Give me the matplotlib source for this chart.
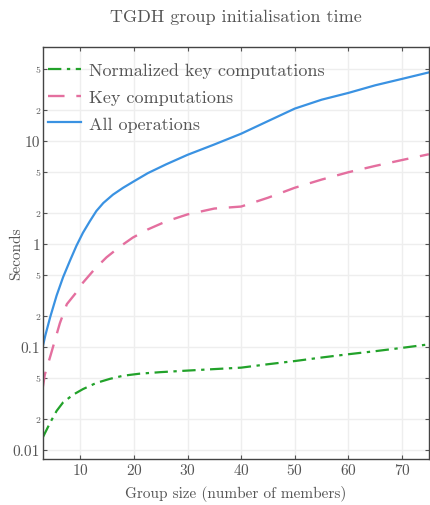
import matplotlib
matplotlib.use("Agg")
import matplotlib.pyplot as plt
from matplotlib.ticker import LogLocator, FuncFormatter, MultipleLocator
import numpy as np

# timings (seconds) per group size
ops_size = [3, 3.5, 4.4, 5.6, 6.8, 8.1, 9.3, 10.5, 11.8, 13, 14.3, 16.1, 18, 20, 22.6, 26, 30, 35, 40, 45, 50, 55, 60, 65, 70, 75]
all_ops = [0.10, 0.13, 0.195, 0.316, 0.475, 0.69, 0.96, 1.28, 1.66, 2.08, 2.49, 3.0, 3.5, 4.04, 4.85, 5.9, 7.3, 9.2, 11.7, 15.5, 20.5, 25.0, 29.1, 34.5, 39.8, 46.0]

key_size = [3, 3.4, 4.5, 6.2, 7.5, 9.3, 10.5, 12.7, 14.9, 17.4, 19.8, 22.6, 26, 30, 35, 40, 45, 50, 55, 60, 65, 70, 75]
key_comp = [0.040, 0.054, 0.084, 0.17, 0.26, 0.34, 0.42, 0.57, 0.74, 0.94, 1.15, 1.38, 1.65, 1.93, 2.2, 2.3, 2.8, 3.5, 4.2, 4.95, 5.7, 6.5, 7.4]

norm_size = [3, 4.4, 5.6, 6.8, 8.7, 10.5, 13, 15.5, 18, 21, 25, 30, 35, 40, 45, 50, 55, 60, 65, 70, 75]
norm_key = [0.0132, 0.0185, 0.024, 0.029, 0.0345, 0.039, 0.0448, 0.049, 0.0526, 0.055, 0.057, 0.059, 0.061, 0.063, 0.068, 0.073, 0.079, 0.085, 0.091, 0.098, 0.106]

grey = "#555555"
plt.rcParams["font.family"] = ["cmr10", "DejaVu Serif"]
plt.rcParams["axes.formatter.use_mathtext"] = True

fig = plt.figure(figsize=(4.3, 5.06), dpi=100)
ax = fig.add_axes([0.0993, 0.091, 0.898, 0.814])

ax.plot(norm_size, norm_key, color="#22a22a", lw=1.6, dashes=(6, 2.5, 1.5, 2.5),
        label="Normalized key computations")
ax.plot(key_size, key_comp, color="#e46f9f", lw=1.7, dashes=(7, 5),
        label="Key computations")
ax.plot(ops_size, all_ops, color="#3a92e2", lw=1.6, label="All operations")

ax.set_yscale("log")
ax.set_xlim(3, 75)
ax.set_ylim(0.0082, 81)

ax.xaxis.set_major_locator(MultipleLocator(10))
ax.yaxis.set_major_locator(LogLocator(base=10, subs=(1.0,)))
ax.yaxis.set_minor_locator(LogLocator(base=10, subs=(2.0, 5.0)))


def major_fmt(v, pos):
    return "{:g}".format(v)


def minor_fmt(v, pos):
    return "{:d}".format(int(round(v / 10 ** np.floor(np.log10(v) + 1e-9))))


ax.yaxis.set_major_formatter(FuncFormatter(major_fmt))
ax.yaxis.set_minor_formatter(FuncFormatter(minor_fmt))

ax.tick_params(which="both", direction="in", top=True, right=True, colors=grey,
               length=3, width=0.8, pad=2)
ax.tick_params(axis="both", which="major", labelsize=11)
ax.tick_params(axis="y", which="minor", labelsize=7)
ax.grid(True, which="both", color="#eeeeee", lw=1.0)
for s in ax.spines.values():
    s.set_color("#444444")
    s.set_linewidth(1.0)

ax.set_xlabel("Group size (number of members)", color=grey, fontsize=11, labelpad=6)
ax.set_ylabel("Seconds", color=grey, fontsize=11)
ax.yaxis.set_label_coords(-0.05, 0.5)
ax.set_title("TGDH group initialisation time", color=grey, fontsize=13, pad=19)

leg = ax.legend(loc="upper left", bbox_to_anchor=(0.005, 0.972), frameon=False,
                fontsize=13, handlelength=1.8, handletextpad=0.45,
                borderaxespad=0.0, borderpad=0.2, labelspacing=0.62)
for t in leg.get_texts():
    t.set_color(grey)

fig.savefig("out.png", dpi=100)
